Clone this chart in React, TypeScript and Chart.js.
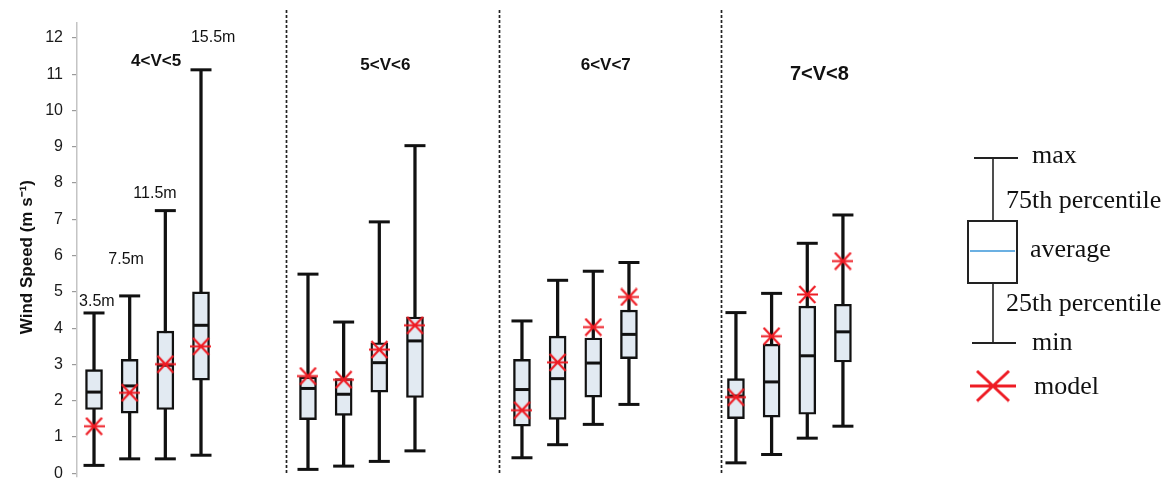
import React, { useEffect, useRef } from 'react';
import { Chart, registerables } from 'chart.js';

Chart.register(...registerables);

// ---- data ----
const groupLabels = ['4<V<5', '5<V<6', '6<V<7', '7<V<8'];
const heightLabels = ['3.5m', '7.5m', '11.5m', '15.5m'];
const minV = [0.22, 0.40, 0.40, 0.50, 0.11, 0.20, 0.33, 0.62, 0.43, 0.79, 1.35, 1.90, 0.29, 0.52, 0.97, 1.30];
const q1V = [1.76, 1.66, 1.76, 2.57, 1.48, 1.60, 2.24, 2.09, 1.30, 1.49, 2.10, 3.16, 1.51, 1.55, 1.63, 3.07];
const avgV = [2.24, 2.41, 2.98, 4.08, 2.34, 2.18, 3.05, 3.65, 2.31, 2.61, 3.04, 3.83, 2.13, 2.52, 3.24, 3.90];
const q3V = [2.86, 3.14, 3.92, 5.00, 2.66, 2.61, 3.60, 4.31, 3.14, 3.78, 3.73, 4.50, 2.61, 3.56, 4.61, 4.66];
const maxV = [4.42, 4.89, 7.24, 11.12, 5.49, 4.17, 6.93, 9.03, 4.20, 5.32, 5.57, 5.81, 4.43, 4.96, 6.34, 7.12];
const modelV = [1.30, 2.22, 3.01, 3.50, 2.68, 2.58, 3.41, 4.08, 1.74, 3.06, 4.03, 4.86, 2.10, 3.78, 4.93, 5.85];
const yTicks = [0, 1, 2, 3, 4, 5, 6, 7, 8, 9, 10, 11, 12];
const legendLabels = ['max', '75th percentile', 'average', '25th percentile', 'min', 'model'];

// ---- layout helpers ----
const SLOTS_PER_GROUP = 6;
const xOf = (i: number) => Math.floor(i / 4) * SLOTS_PER_GROUP + (i % 4);
const separatorX = [5.38, 11.35, 17.58];
const groupLabelAt = [[1.74, 11.35], [8.17, 11.25], [14.35, 11.25], [20.34, 11.0]];
const heightLabelAt = [[0.08, 4.72], [0.9, 5.88], [1.71, 7.72], [3.34, 12.0]];

const RED = '#ee1c24';
const INK = '#111111';

function makeStar(w: number, h: number, lw: number, inset: number) {
  const c = document.createElement('canvas');
  c.width = w;
  c.height = h;
  const g = c.getContext('2d')!;
  g.strokeStyle = RED;
  g.lineWidth = lw;
  g.beginPath();
  g.moveTo(0, h / 2);
  g.lineTo(w, h / 2);
  g.moveTo(inset, lw / 2);
  g.lineTo(w - inset, h - lw / 2);
  g.moveTo(w - inset, lw / 2);
  g.lineTo(inset, h - lw / 2);
  g.stroke();
  return c;
}

const annotations = {
  id: 'annotations',
  afterDraw(chart: any) {
    const { ctx, scales } = chart;
    const x = scales.x;
    const y = scales.y;
    ctx.save();
    // group separators
    ctx.strokeStyle = '#222';
    ctx.lineWidth = 1.7;
    ctx.setLineDash([3, 2]);
    separatorX.forEach((s) => {
      const px = Math.round(x.getPixelForValue(s)) + 0.5;
      ctx.beginPath();
      ctx.moveTo(px, y.getPixelForValue(12.77));
      ctx.lineTo(px, y.getPixelForValue(0));
      ctx.stroke();
    });
    ctx.setLineDash([]);
    // group labels
    ctx.fillStyle = INK;
    ctx.textAlign = 'center';
    ctx.textBaseline = 'middle';
    groupLabels.forEach((t, i) => {
      ctx.font = i === 3 ? 'bold 20px "Liberation Sans", Arial, sans-serif' : 'bold 17px "Liberation Sans", Arial, sans-serif';
      ctx.fillText(t, x.getPixelForValue(groupLabelAt[i][0]), y.getPixelForValue(groupLabelAt[i][1]));
    });
    ctx.font = '16px "Liberation Sans", Arial, sans-serif';
    heightLabels.forEach((t, i) => {
      ctx.fillText(t, x.getPixelForValue(heightLabelAt[i][0]), y.getPixelForValue(heightLabelAt[i][1]));
    });

    // legend (explanatory box diagram)
    const cx = 993;
    const yMax = 158, yQ3 = 221, yAvg = 251, yQ1 = 283, yMin = 343, yModel = 386;
    ctx.strokeStyle = '#222';
    ctx.lineWidth = 1.6;
    ctx.beginPath();
    ctx.moveTo(cx, yMax);
    ctx.lineTo(cx, yMin);
    ctx.stroke();
    ctx.lineWidth = 2;
    ctx.beginPath();
    ctx.moveTo(974, yMax);
    ctx.lineTo(1018, yMax);
    ctx.moveTo(972, yMin);
    ctx.lineTo(1016, yMin);
    ctx.stroke();
    ctx.fillStyle = '#ffffff';
    ctx.fillRect(968, yQ3, 49, yQ1 - yQ3);
    ctx.strokeRect(968, yQ3, 49, yQ1 - yQ3);
    ctx.strokeStyle = '#3a96d8';
    ctx.lineWidth = 1.6;
    ctx.beginPath();
    ctx.moveTo(970, yAvg);
    ctx.lineTo(1015, yAvg);
    ctx.stroke();
    const big = makeStar(46, 33, 3, 7);
    ctx.drawImage(big, cx - 23, yModel - 16.5);

    ctx.fillStyle = INK;
    ctx.textAlign = 'left';
    ctx.textBaseline = 'middle';
    ctx.font = '26px "Liberation Serif", "Times New Roman", serif';
    const legendPos = [[1032, yMax - 2], [1006, 201], [1030, 250], [1006, 304], [1032, yMin], [1034, yModel + 1]];
    legendLabels.forEach((t, i) => ctx.fillText(t, legendPos[i][0], legendPos[i][1]));
    ctx.restore();
  },
};

export default function App() {
  const ref = useRef<HTMLCanvasElement>(null);

  useEffect(() => {
    const idx = minV.map((_, i) => i);
    const star = makeStar(21, 19, 2.2, 2.5);
    const chart = new Chart(ref.current!, {
      type: 'bar',
      data: {
        datasets: [
          {
            type: 'bar',
            data: idx.map((i) => ({ x: xOf(i), y: [minV[i], maxV[i]] })) as any,
            backgroundColor: INK,
            borderWidth: 0,
            barThickness: 2.6,
            grouped: false,
            order: 5,
          } as any,
          {
            type: 'bar',
            data: idx.map((i) => ({ x: xOf(i), y: [q1V[i], q3V[i]] })) as any,
            backgroundColor: '#e2eaf2',
            borderColor: INK,
            borderWidth: 2.4,
            borderSkipped: false,
            barThickness: 17,
            grouped: false,
            order: 4,
          } as any,
          {
            type: 'scatter',
            data: idx.flatMap((i) => [
              { x: xOf(i), y: minV[i] },
              { x: xOf(i), y: maxV[i] },
            ]),
            pointStyle: 'line',
            pointRadius: 10.5,
            borderColor: INK,
            borderWidth: 3,
            order: 3,
          } as any,
          {
            type: 'scatter',
            data: idx.map((i) => ({ x: xOf(i), y: avgV[i] })),
            pointStyle: 'line',
            pointRadius: 7,
            borderColor: INK,
            borderWidth: 3,
            order: 2,
          } as any,
          {
            type: 'scatter',
            data: idx.map((i) => ({ x: xOf(i), y: modelV[i] })),
            pointStyle: star,
            pointRadius: 10,
            order: 1,
          } as any,
        ],
      },
      options: {
        animation: false,
        responsive: false,
        devicePixelRatio: 1,
        layout: { autoPadding: false, padding: { left: 0, right: 271, top: 23, bottom: 5 } },
        plugins: { legend: { display: false }, tooltip: { enabled: false } },
        scales: {
          x: {
            type: 'linear',
            min: -0.477,
            max: 22.46,
            offset: false,
            display: false,
          },
          y: {
            type: 'linear',
            min: -0.1,
            max: 12.41,
            afterBuildTicks: (scale: any) => {
              scale.ticks = yTicks.map((v) => ({ value: v }));
            },
            afterFit: (scale: any) => {
              scale.width = 77;
              scale.paddingTop = 0;
              scale.paddingBottom = 0;
            },
            grid: { drawOnChartArea: false, drawTicks: true, tickLength: 5, color: '#9a9a9a', lineWidth: 1.2 },
            border: { display: true, color: '#c4c4c4', width: 1.5 },
            ticks: {
              padding: 9,
              color: '#1a1a1a',
              font: { family: '"Liberation Sans", Arial, sans-serif', size: 16, lineHeight: 1 },
              callback: (v: any) => String(v),
            },
            title: {
              display: true,
              text: 'Wind Speed (m s⁻¹)   ',
              color: INK,
              padding: { top: 17, bottom: 0 },
              font: { family: '"Liberation Sans", Arial, sans-serif', size: 17, weight: 'bold' },
            },
          },
        },
      },
      plugins: [annotations],
    });
    return () => chart.destroy();
  }, []);

  return (
    <div style={{ position: 'fixed', left: 0, top: 0, width: 1166, height: 482, background: '#fff' }}>
      <canvas ref={ref} width={1166} height={482} style={{ display: 'block' }} />
    </div>
  );
}
